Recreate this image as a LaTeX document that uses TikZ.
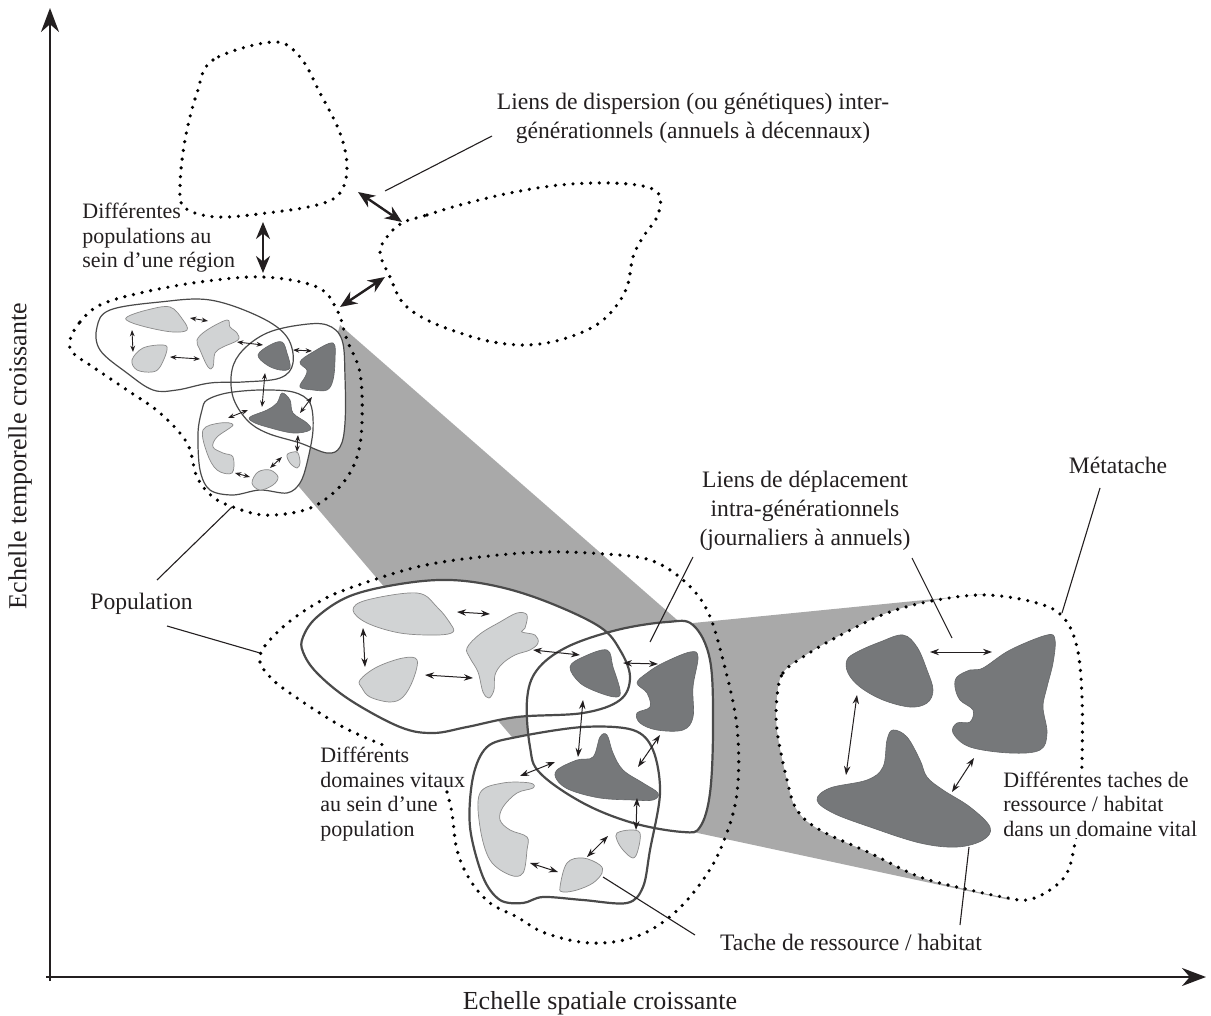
\documentclass[tikz,border=0pt]{standalone}
\usepackage{fontspec}
\setmainfont{Liberation Serif}
\usetikzlibrary{arrows.meta}
\definecolor{lightp}{HTML}{D1D3D4}
\definecolor{lightline}{HTML}{8A8A8A}
\definecolor{darkp}{HTML}{76787A}
\definecolor{wedge}{HTML}{A9A9A9}
\definecolor{hrline}{HTML}{4A4A4A}
\definecolor{txt}{HTML}{231F20}

% home ranges, middle cluster
\newcommand\hrMa{plot[smooth cycle,tension=0.6] coordinates {(303,637) (317,617) (350,596) (400,584) (450,580) (500,587) (550,603) (600,627) (620,650) (630,677) (620,700) (583,713) (517,717) (467,727) (433,733) (400,727) (350,700) (317,673) (303,652)}}
\newcommand\hrMb{plot[smooth cycle,tension=0.6] coordinates {(527,700) (537,670) (567,647) (617,630) (667,622) (693,625) (710,660) (713,727) (710,793) (700,827) (683,832) (633,823) (583,803) (540,773) (530,747)}}
\newcommand\hrMc{plot[smooth cycle,tension=0.55] coordinates {(487,747) (517,737) (583,727) (633,730) (653,750) (660,793) (650,850) (643,887) (627,903) (583,900) (543,897) (523,903) (500,900) (483,877) (470,827) (473,777)}}
% home ranges, small cluster
\newcommand\hrSa{plot[smooth cycle,tension=0.6] coordinates {(97,327) (110,310) (160,302) (210,300) (260,317) (287,337) (293,363) (280,378) (243,382) (210,383) (177,390) (153,390) (127,373) (100,350)}}
\newcommand\hrSb{plot[smooth cycle,tension=0.6] coordinates {(232,370) (243,350) (267,333) (300,325) (327,325) (342,340) (345,377) (345,423) (340,447) (327,453) (300,443) (267,433) (247,420) (233,397)}}
\newcommand\hrSc{plot[smooth cycle,tension=0.55] coordinates {(207,400) (227,393) (260,390) (293,392) (310,403) (313,430) (307,463) (300,483) (287,493) (260,490) (233,495) (210,490) (200,470) (198,433) (202,410)}}
\newcommand\metaShape{plot[smooth cycle,tension=0.6] coordinates {(777,697) (783,673) (803,657) (837,637) (887,613) (937,600) (987,595) (1037,603) (1063,617) (1077,647) (1082,697) (1082,763) (1080,810) (1075,843) (1067,873) (1050,890) (1027,900) (1003,897) (970,890) (920,877) (870,853) (820,830) (797,810) (787,780) (777,730)}}

\begin{document}
\begin{tikzpicture}[x=0.5pt,y=-0.5pt,
  dots/.style={draw=black, line width=1.8pt, line cap=round, dash pattern=on 0pt off 4.4pt},
  hrbig/.style={draw=hrline, line width=1.1pt},
  hrsmall/.style={draw=hrline, line width=0.6pt},
  lightpatch/.style={fill=lightp, draw=lightline, line width=0.35pt},
  darkpatch/.style={fill=darkp, draw=darkp!85!black, line width=0.3pt},
  bigarrow/.style={{Stealth[length=8.5pt,width=7pt]}-{Stealth[length=8.5pt,width=7pt]}, line width=1.2pt, draw=txt},
  midarrow/.style={{Stealth[length=4.5pt,width=3.2pt]}-{Stealth[length=4.5pt,width=3.2pt]}, line width=0.5pt, draw=txt},
  smallarrow/.style={{Stealth[length=3.2pt,width=2.4pt]}-{Stealth[length=3.2pt,width=2.4pt]}, line width=0.45pt, draw=txt},
  leader/.style={draw=txt, line width=0.55pt},
  lbl/.style={font=\fontsize{11.8pt}{14.5pt}\selectfont, text=txt, inner sep=0pt},
  lblsm/.style={font=\fontsize{11pt}{12.3pt}\selectfont, text=txt, inner sep=0pt},
  axlbl/.style={font=\fontsize{13pt}{15pt}\selectfont, text=txt, inner sep=0pt},
  sm/.style={smooth cycle, tension=0.6}
]
\useasboundingbox (0,0) rectangle (1211,1016);

% ---- gray projection wedges
\fill[wedge] (340,325) -- (700,640) -- (540,770) -- (295,482) -- cycle;
\fill[wedge] (693,623) -- (985,594) -- (1010,900) -- (693,832) -- cycle;
\fill[white] \metaShape;

% ---- dotted outlines
% top-left population
\draw[dots] plot[sm] coordinates {(273,42) (213,60) (197,93) (185,140) (180,187) (185,208) (217,217) (267,213) (317,205) (340,193) (347,167) (340,133) (320,93) (300,57)};
% top-right population
\draw[dots] plot[sm] coordinates {(402,223) (427,215) (460,205) (510,193) (560,185) (610,183) (647,187) (660,197) (657,217) (643,237) (633,257) (627,287) (613,310) (593,327) (560,340) (527,345) (493,342) (460,333) (427,320) (403,303) (390,277) (380,253) (387,237)};
% region (small cluster)
\draw[dots] plot[sm] coordinates {(70,340) (80,322) (100,305) (140,293) (200,282) (263,277) (317,287) (337,310) (347,340) (360,373) (362,423) (357,457) (343,483) (320,503) (297,512) (263,515) (233,507) (213,497) (197,477) (187,443) (160,413) (127,390) (93,367) (73,353)};
% population (middle cluster), open where the label sits
\draw[dots] plot[smooth, tension=0.6] coordinates {(447,792) (452,813) (457,850) (470,880) (490,903) (517,917) (545,933) (590,943) (635,937) (672,915) (703,880) (723,843) (737,793) (737,727) (723,660) (707,610) (683,580) (650,560) (605,554) (545,552) (480,557) (417,567) (350,588) (317,603) (283,627) (260,655) (270,677) (300,700) (343,727) (383,745)};
% metatache
\draw[dots] \metaShape;

% ---- home ranges (small cluster)
\fill[white] \hrSa; \fill[white] \hrSb; \fill[white] \hrSc;
\draw[hrsmall] \hrSa; \draw[hrsmall] \hrSb; \draw[hrsmall] \hrSc;
% ---- home ranges (middle cluster)
\fill[white] \hrMa; \fill[white] \hrMb; \fill[white] \hrMc;
\draw[hrbig] \hrMa; \draw[hrbig] \hrMb; \draw[hrbig] \hrMc;

% ---- patches, small cluster
\draw[lightpatch] plot[sm] coordinates {(127,317) (147,310) (170,307) (183,320) (187,330) (173,332) (150,328) (130,322)};
\draw[lightpatch] plot[sm] coordinates {(132,360) (143,348) (163,345) (167,350) (160,367) (152,372) (137,370)};
\draw[lightpatch] plot[sm] coordinates {(197,340) (207,330) (227,320) (230,327) (237,333) (238,340) (223,347) (215,353) (213,367) (208,367) (200,350)};
\draw[lightpatch] plot[sm] coordinates {(203,430) (220,423) (233,425) (217,437) (213,447) (223,453) (233,457) (232,473) (217,470) (207,453)};
\draw[lightpatch] plot[sm] coordinates {(252,483) (258,472) (270,470) (278,477) (273,485) (260,490)};
\draw[lightpatch] plot[sm] coordinates {(287,455) (293,452) (298,453) (300,463) (297,468) (290,463)};
\draw[darkpatch] plot[sm] coordinates {(258,355) (270,345) (282,342) (287,353) (290,368) (280,370) (267,365)};
\draw[darkpatch] plot[sm] coordinates {(300,362) (313,352) (333,343) (335,360) (333,380) (327,390) (313,390) (300,387) (305,377) (307,370)};
\draw[darkpatch] plot[sm] coordinates {(250,417) (267,410) (277,403) (282,393) (290,400) (293,413) (307,423) (310,430) (293,433) (267,427) (253,422)};

% ---- patches, middle cluster
\draw[lightpatch] plot[sm] coordinates {(353,610) (367,600) (417,593) (437,607) (450,623) (453,632) (437,635) (400,633) (367,623)};
\draw[lightpatch] plot[sm] coordinates {(360,680) (377,667) (403,658) (417,660) (413,680) (403,697) (390,702) (370,697) (362,688)};
\draw[lightpatch] plot[sm] coordinates {(467,648) (480,634) (500,622) (517,613) (527,615) (525,628) (522,632) (535,635) (538,643) (530,650) (515,655) (502,664) (495,675) (494,690) (489,698) (483,692) (478,672) (470,658)};
\draw[lightpatch] plot[sm] coordinates {(480,793) (503,783) (530,783) (533,788) (517,793) (503,807) (500,820) (510,830) (527,837) (527,850) (523,873) (510,875) (490,860) (480,827)};
\draw[lightpatch] plot[sm] coordinates {(560,887) (567,863) (583,858) (600,865) (602,873) (593,883) (577,890) (563,892)};
\draw[lightpatch] plot[sm] coordinates {(617,833) (630,830) (640,833) (638,850) (633,858) (623,850) (617,840)};
\draw[darkpatch] plot[sm] coordinates {(570,667) (583,657) (607,650) (613,667) (620,690) (617,697) (600,693) (580,683)};
\draw[darkpatch] plot[sm] coordinates {(637,683) (647,673) (663,663) (690,652) (698,657) (693,687) (693,717) (683,730) (657,730) (640,723) (637,713) (650,707) (647,693)};
\draw[darkpatch] plot[sm] coordinates {(557,770) (577,760) (593,757) (600,737) (607,735) (613,753) (623,770) (643,783) (658,793) (653,800) (633,800) (600,798) (570,790) (557,780)};

% ---- patches, metatache
\draw[darkpatch] plot[sm] coordinates {(847,660) (857,652) (880,642) (903,635) (917,647) (927,670) (933,690) (927,703) (910,707) (883,700) (860,687) (848,673)};
\draw[darkpatch] plot[sm] coordinates {(957,677) (970,670) (983,668) (1010,650) (1047,635) (1055,640) (1053,663) (1047,687) (1043,707) (1047,733) (1040,750) (1010,753) (970,747) (953,733) (957,723) (970,722) (973,710) (960,700) (955,687)};
\draw[darkpatch] plot[sm] coordinates {(817,800) (830,788) (867,780) (883,767) (887,740) (893,730) (907,737) (920,760) (927,777) (943,790) (970,807) (990,827) (983,840) (957,847) (920,843) (870,827) (833,813)};

% ---- dispersion arrows
\draw[bigarrow] (263,222) -- (263,273);
\draw[bigarrow] (358,192) -- (402,222);
\draw[bigarrow] (385,277) -- (340,307);

% ---- movement arrows, small cluster
\draw[smallarrow] (190,318) -- (208,321);
\draw[smallarrow] (132,330) -- (133,352);
\draw[smallarrow] (170,357) -- (200,359);
\draw[smallarrow] (237,342) -- (263,345);
\draw[smallarrow] (293,350) -- (312,351);
\draw[smallarrow] (265,373) -- (262,407);
\draw[smallarrow] (312,397) -- (300,413);
\draw[smallarrow] (248,410) -- (228,418);
\draw[smallarrow] (298,435) -- (297,452);
\draw[smallarrow] (282,457) -- (270,468);
\draw[smallarrow] (235,473) -- (250,477);

% ---- movement arrows, middle cluster
\draw[midarrow] (457,612) -- (490,614);
\draw[midarrow] (363,628) -- (365,667);
\draw[midarrow] (425,675) -- (473,678);
\draw[midarrow] (533,650) -- (580,655);
\draw[midarrow] (623,663) -- (658,664);
\draw[midarrow] (583,700) -- (578,757);
\draw[midarrow] (660,735) -- (638,767);
\draw[midarrow] (555,762) -- (520,776);
\draw[midarrow] (637,798) -- (636,830);
\draw[midarrow] (608,836) -- (587,857);
\draw[midarrow] (530,863) -- (558,872);

% ---- movement arrows, metatache
\draw[midarrow] (930,652) -- (992,652);
\draw[midarrow] (857,695) -- (846,775);
\draw[midarrow] (974,758) -- (952,792);

% ---- axes
\coordinate (origin) at (50,977);
\coordinate (ytip) at (50,8);
\coordinate (xtip) at (1206,977);
\draw[line width=1.2pt, draw=txt, -{Stealth[length=12pt,width=9pt]}] (50,981) -- (ytip);
\draw[line width=1.2pt, draw=txt, -{Stealth[length=12pt,width=9pt]}] (46,977) -- (xtip);

% ---- labels
\node[lbl, align=center] (disp) at (693,118) {Liens de dispersion (ou génétiques) inter-\\générationnels (annuels à décennaux)};
\node[lblsm, align=left, anchor=west] (regtxt) at (82,238) {Différentes\\populations au\\sein d’une région};
\node[lbl, anchor=west] (pop) at (90,604) {Population};
\node[lbl, align=center] (depl) at (805,511) {Liens de déplacement\\intra-générationnels\\(journaliers à annuels)};
\node[lbl] (meta) at (1118,465) {Métatache};
\node[lblsm, align=left, anchor=west, fill=white, inner sep=1pt] (taches) at (1001,804) {Différentes taches de\\ressource / habitat\\dans un domaine vital};
\node[lbl] (tache) at (851,942) {Tache de ressource / habitat};
\node[lblsm, align=left, anchor=west] (dom) at (320,794) {Différents\\domaines vitaux\\au sein d’une\\population};
\node[axlbl, rotate=90] (ylab) at (20,456) {Echelle temporelle croissante};
\node[axlbl] (xlab) at (600,1003) {Echelle spatiale croissante};

% ---- leader lines
\draw[leader] (385,191) -- (492,136);
\draw[leader] (157,580) -- (232,507);
\draw[leader] (167,626) -- (260,653);
\draw[leader] (650,642) -- (693,557);
\draw[leader] (912,558) -- (952,638);
\draw[leader] (1100,488) -- (1062,613);
\draw[leader] (603,877) -- (695,935);
\draw[leader] (969,847) -- (960,925);
\end{tikzpicture}
\end{document}
